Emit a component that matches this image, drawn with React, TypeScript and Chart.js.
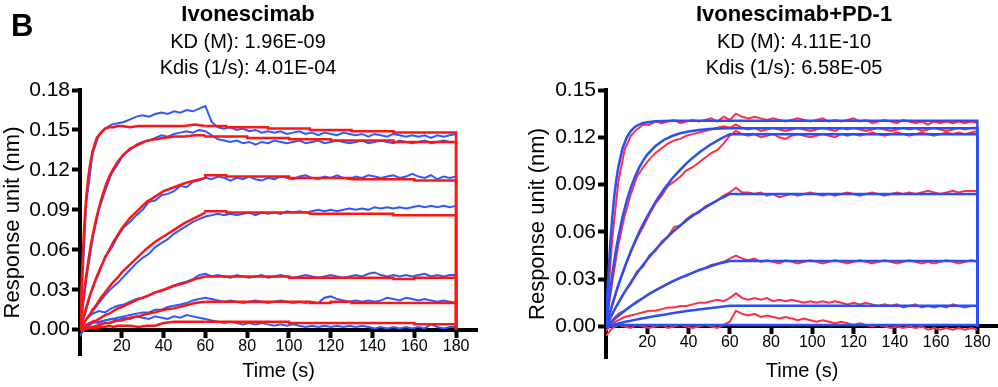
import { useEffect, useRef } from 'react';
import { Chart, registerables } from 'chart.js';

Chart.register(...registerables);

const FONT = '"Liberation Sans", Arial, Helvetica, sans-serif';
Chart.defaults.font.family = FONT;

// ---------- shared axes ----------
const timeRaw = [0,3,6,9,12,15,18,21,24,27,30,33,36,39,42,45,48,51,54,57,60,63,66,69,72,75,78,81,84,87,90,93,96,99,102,105,108,111,114,117,120,123,126,129,132,135,138,141,144,147,150,153,156,159,162,165,168,171,174,177,180];
const timeFit = [0,1,2,3,4,5,6,8,10,12,14,16,18,20,24,28,32,36,40,45,50,55,60,70,80,90,100,110,120,130,140,150,160,170,180,180];
const ASSOC_END = 22; // index of t = 60 s in timeFit
const xTickValues = [20,40,60,80,100,120,140,160,180];
const yTicksLeft = [0,0.03,0.06,0.09,0.12,0.15,0.18];
const yTicksRight = [0,0.03,0.06,0.09,0.12,0.15];

// ---------- Ivonescimab: raw (blue) ----------
const ivoRaw1 = [0,.095,.132,.146,.151,.154,.155,.156,.158,.160,.161,.160,.162,.163,.162,.164,.163,.165,.164,.166,.168,
  .156,.152,.151,.152,.150,.151,.149,.150,.148,.149,
  .148,.149,.147,.148,.149,.147,.148,.146,.148,.147,
  .146,.148,.147,.146,.147,.145,.147,.146,.145,.147,
  .146,.145,.146,.145,.146,.144,.146,.145,.146,.147];
const ivoRaw2 = [0,.038,.068,.090,.104,.117,.124,.132,.135,.139,.141,.142,.144,.146,.145,.147,.148,.149,.148,.150,.149,
  .146,.143,.142,.141,.142,.140,.141,.139,.141,.140,
  .142,.141,.140,.141,.142,.140,.141,.142,.140,.141,
  .142,.141,.140,.141,.142,.140,.141,.142,.141,.140,
  .142,.141,.140,.141,.142,.140,.141,.142,.141,.141];
const ivoRaw3 = [0,.015,.032,.042,.055,.061,.070,.077,.081,.086,.090,.096,.097,.101,.102,.104,.108,.107,.111,.112,.114,
  .113,.115,.114,.112,.114,.113,.115,.113,.112,.114,
  .113,.115,.114,.113,.115,.116,.114,.113,.115,.114,
  .116,.114,.113,.115,.114,.116,.115,.114,.115,.116,
  .114,.115,.117,.115,.114,.116,.113,.115,.114,.115];
const ivoRaw4 = [0,.008,.014,.020,.026,.031,.035,.040,.045,.050,.054,.057,.062,.065,.068,.072,.075,.078,.081,.083,.085,
  .086,.087,.086,.087,.086,.087,.088,.086,.088,.087,
  .088,.087,.089,.088,.089,.088,.089,.090,.089,.090,
  .089,.090,.091,.090,.091,.090,.092,.091,.092,.091,
  .092,.091,.092,.093,.092,.093,.092,.093,.092,.093];
const ivoRaw5 = [0,.008,.012,.014,.013,.016,.018,.019,.021,.023,.024,.026,.028,.029,.031,.033,.035,.036,.038,.041,.042,
  .040,.041,.040,.039,.041,.040,.039,.040,.041,.039,
  .040,.041,.040,.039,.040,.041,.040,.039,.040,.041,
  .040,.039,.040,.041,.040,.042,.043,.041,.040,.041,
  .040,.041,.040,.041,.042,.040,.041,.040,.041,.041];
const ivoRaw6 = [-.004,.002,.005,.006,.007,.008,.009,.010,.011,.012,.013,.013,.015,.015,.017,.018,.019,.020,.022,.023,.024,
  .023,.022,.021,.022,.021,.020,.021,.022,.021,.020,
  .021,.022,.021,.020,.021,.020,.021,.020,.024,.025,
  .023,.022,.021,.022,.021,.022,.021,.022,.024,.023,
  .022,.024,.023,.022,.023,.022,.021,.022,.021,.020];
const ivoRaw7 = [-.005,.004,.006,.005,.007,.008,.007,.009,.008,.010,.009,.008,.010,.009,.008,.010,.009,.011,.010,.009,.008,
  .007,.006,.005,.006,.005,.004,.005,.004,.005,.004,
  .003,.004,.003,.004,.003,.002,.003,.002,.003,.002,
  .003,.002,.003,.002,.003,.002,.001,.002,.001,.002,
  .001,.002,.001,.002,.001,.004,.002,.001,.002,.002];

// ---------- Ivonescimab: fits (red) ----------
const ivoFit1 = [0,.045,.077,.0995,.115,.126,.134,.144,.148,.151,.152,.152,.153,.153,
  .152,.153,.153,.153,.153,.153,.153,.154,.153,
  .153,.152,.152,.151,.151,.150,.150,.149,.149,.148,.148,.148,0];
const ivoFit2 = [0,.015,.029,.041,.052,.062,.0705,.085,.097,.107,.115,.121,.126,.130,
  .136,.139,.142,.143,.144,.145,.145,.146,.146,
  .145,.145,.144,.144,.143,.143,.142,.142,.142,.141,.141,.141,0];
const ivoFit3 = [0,.006,.011,.017,.022,.027,.031,.040,.047,.054,.060,.066,.071,.076,
  .084,.090,.096,.100,.104,.107,.110,.112,.114,
  .116,.115,.115,.115,.114,.114,.114,.113,.113,.113,.112,.112,0];
const ivoFit4 = [0,.0026,.0052,.0077,.010,.012,.015,.019,.024,.028,.032,.036,.039,.043,
  .049,.055,.061,.066,.070,.075,.080,.084,.088,
  .089,.088,.088,.088,.088,.087,.087,.087,.087,.086,.086,.086,0];
const ivoFit5 = [0,.001,.002,.003,.004,.005,.006,.007,.009,.011,.012,.014,.016,.017,
  .020,.023,.025,.028,.030,.033,.035,.038,.040,
  .040,.040,.040,.040,.039,.039,.039,.039,.039,.038,.039,.039,0];
const ivoFit6 = [0,.0003,.0006,.001,.001,.002,.002,.003,.004,.005,.005,.006,.007,.007,
  .009,.010,.012,.013,.015,.016,.018,.020,.021,
  .021,.021,.021,.021,.021,.020,.021,.020,.020,.020,.020,.020,0];
const ivoFit7 = [0,.0002,.0004,.0006,.0008,.001,.001,.0015,.002,.002,.003,.002,.003,.003,
  .003,.002,.003,.003,.005,.006,.006,.006,.006,
  .006,.006,.006,.006,.005,.005,.005,.005,.005,.005,.004,.004,0];

// ---------- Ivonescimab+PD-1: raw (red) ----------
const pdRaw1 = [0,.055,.092,.112,.121,.125,.128,.128,.130,.129,.130,.131,.129,.130,.131,.130,.131,.132,.130,.133,.131,
  .135,.133,.132,.133,.132,.131,.132,.131,.130,.131,
  .132,.131,.130,.131,.132,.130,.131,.130,.131,.132,
  .130,.131,.129,.130,.131,.130,.129,.131,.130,.129,
  .130,.128,.130,.129,.130,.129,.130,.129,.130,.129];
const pdRaw2 = [0,.028,.052,.070,.084,.095,.101,.106,.110,.113,.116,.118,.119,.121,.122,.123,.124,.125,.126,.127,.126,
  .128,.126,.125,.126,.124,.125,.126,.125,.124,.125,
  .126,.125,.124,.125,.126,.125,.124,.126,.125,.126,
  .125,.124,.125,.126,.125,.124,.125,.126,.125,.126,
  .124,.125,.126,.125,.124,.125,.126,.125,.126,.126];
const pdRaw3 = [0,.013,.026,.037,.047,.056,.063,.071,.078,.083,.089,.092,.095,.099,.101,.104,.107,.110,.112,.116,.121,
  .124,.122,.121,.122,.120,.121,.122,.120,.119,.121,
  .122,.121,.120,.121,.122,.121,.120,.122,.121,.122,
  .121,.122,.123,.122,.121,.122,.123,.122,.121,.122,
  .123,.122,.121,.122,.123,.122,.123,.122,.123,.124];
const pdRaw4 = [0,.008,.015,.022,.027,.035,.038,.045,.048,.054,.057,.063,.064,.068,.071,.072,.076,.078,.080,.083,.085,
  .088,.085,.085,.084,.085,.083,.084,.082,.083,.084,
  .083,.084,.085,.084,.083,.084,.083,.084,.085,.084,
  .083,.084,.085,.084,.083,.084,.085,.084,.085,.084,
  .085,.086,.085,.084,.085,.086,.085,.086,.086,.086];
const pdRaw5 = [0,.004,.008,.010,.013,.016,.018,.021,.023,.025,.027,.029,.031,.032,.034,.036,.037,.039,.040,.041,.043,
  .045,.043,.042,.043,.041,.042,.041,.040,.042,.041,
  .040,.041,.042,.041,.040,.041,.042,.041,.040,.041,
  .042,.041,.040,.041,.042,.041,.040,.041,.042,.041,
  .040,.041,.040,.041,.042,.041,.040,.041,.042,.041];
const pdRaw6 = [-.003,.002,.004,.006,.007,.008,.009,.010,.010,.011,.012,.012,.013,.013,.014,.015,.015,.016,.017,.016,.018,
  .021,.018,.017,.018,.017,.018,.016,.017,.016,.017,
  .016,.015,.016,.015,.016,.015,.016,.015,.014,.015,
  .014,.015,.014,.013,.014,.013,.014,.012,.013,.014,
  .012,.013,.012,.013,.012,.014,.013,.012,.013,.013];
const pdRaw7 = [-.006,-.001,.001,0,-.001,.001,0,-.001,0,.001,-.001,0,.001,0,-.001,0,.001,0,-.001,.001,.003,
  .010,.008,.007,.008,.006,.007,.006,.005,.006,.005,
  .004,.005,.004,.003,.004,.003,.002,.003,.002,.001,
  .002,.001,0,.001,0,-.001,0,-.001,0,-.001,
  0,-.002,-.001,-.002,-.001,-.002,-.001,-.002,-.001,-.002];

// ---------- Ivonescimab+PD-1: fits (blue) ----------
const pdFit1 = [0,.0289,.0513,.0689,.0825,.093,.1014,.1129,.1198,.124,.1266,.1281,.1291,.1296,
  .1302,.1304,.1305,.1305,.1305,.1305,.1305,.1305,.1305,
  .1305,.1305,.1305,.1305,.1305,.1305,.1305,.1305,.1305,.1305,.1305,.1305,0];
const pdFit2 = [0,.012,.0228,.0327,.0416,.0496,.0568,.0694,.0796,.0881,.0949,.1006,.1052,.109,
  .1145,.1183,.1208,.1226,.1237,.1246,.1252,.1255,.1257,
  .1257,.1257,.1257,.1257,.1257,.1257,.1257,.1257,.1257,.1257,.1257,.1257,0];
const pdFit3 = [0,.0048,.0094,.0139,.0182,.0224,.0263,.0339,.041,.0477,.0538,.0596,.0649,.0699,
  .079,.0869,.0937,.0995,.1047,.1102,.1148,.1187,.122,
  .122,.122,.122,.122,.122,.122,.122,.122,.122,.122,.122,.122,0];
const pdFit4 = [0,.0027,.0053,.0078,.0103,.0127,.015,.0196,.0239,.028,.0319,.0356,.0391,.0425,
  .0487,.0543,.0595,.064,.0683,.0729,.077,.0807,.084,
  .084,.084,.084,.084,.084,.084,.084,.084,.084,.084,.084,.084,0];
const pdFit5 = [0,.0012,.0024,.0035,.0046,.0057,.0068,.0089,.0109,.0128,.0146,.0164,.0181,.0198,
  .0229,.0257,.0284,.0308,.0331,.0356,.0379,.04,.0415,
  .0415,.0415,.0415,.0415,.0415,.0415,.0415,.0415,.0415,.0415,.0415,.0415,0];
const pdFit6 = [0,.0003,.0007,.001,.0013,.0016,.0019,.0025,.0031,.0036,.0042,.0047,.0052,.0057,
  .0066,.0075,.0084,.0092,.0099,.0108,.0116,.0124,.0132,
  .0132,.0132,.0132,.0132,.0132,.0132,.0132,.0132,.0132,.0132,.0132,.0132,0];
const pdFit7 = [0,.0002,.0004,.0006,.0007,.0008,.0009,.001,.001,.001,.001,.001,.001,.001,
  .001,.001,.001,.001,.001,.001,.001,.001,.001,
  .001,.001,.001,.001,.001,.001,.001,.001,.001,.001,.001,.001,0];

const ivoRaws = [ivoRaw1, ivoRaw2, ivoRaw3, ivoRaw4, ivoRaw5, ivoRaw6, ivoRaw7];
const ivoFits = [ivoFit1, ivoFit2, ivoFit3, ivoFit4, ivoFit5, ivoFit6, ivoFit7];
const pdRaws = [pdRaw1, pdRaw2, pdRaw3, pdRaw4, pdRaw5, pdRaw6, pdRaw7];
const pdFits = [pdFit1, pdFit2, pdFit3, pdFit4, pdFit5, pdFit6, pdFit7];

const BLUE_RAW = '#2d5aff';
const RED_FIT = '#ff1414';
const RED_RAW = '#ff2d48';
const BLUE_FIT = '#2a4ff2';

function line(t: number[], v: number[], color: string, width: number, stepped: any) {
  return {
    data: t.map((x, i) => ({ x, y: v[i] })),
    borderColor: color,
    backgroundColor: color,
    borderWidth: width,
    pointRadius: 0,
    fill: false,
    tension: 0,
    stepped,
    xAxisID: 'x',
    yAxisID: 'y',
  };
}

type PanelProps = {
  left: number;
  width: number;
  datasets: any[];
  yMin: number;
  yMax: number;
  yTicks: number[];
  yWidth: number;
  padRight: number;
  bottomH: number;
};

function Panel({ left, width, datasets, yMin, yMax, yTicks, yWidth, padRight, bottomH }: PanelProps) {
  const ref = useRef<HTMLCanvasElement | null>(null);
  useEffect(() => {
    if (!ref.current) return;
    const axisGrid = (tl: number) => ({
      display: true,
      drawOnChartArea: false,
      drawTicks: true,
      tickLength: tl,
      tickWidth: 4,
      tickColor: '#000',
      color: '#000',
    });
    const chart = new Chart(ref.current, {
      type: 'line',
      data: { datasets },
      options: {
        animation: false,
        responsive: false,
        maintainAspectRatio: false,
        events: [],
        layout: { padding: { top: 90, left: 0, right: padRight, bottom: 0 } },
        plugins: { legend: { display: false }, tooltip: { enabled: false }, title: { display: false } },
        scales: {
          x: {
            type: 'linear',
            position: { y: 0 } as any,
            min: 0,
            max: 190,
            afterBuildTicks: (s: any) => {
              s.ticks = xTickValues.map((v) => ({ value: v }));
            },
            grid: axisGrid(6),
            border: { display: true, width: 4, color: '#000' },
            ticks: {
              color: '#000',
              font: { family: FONT, size: 16 },
              padding: 1,
              autoSkip: false,
              maxRotation: 0,
              callback: (v: any) => String(v),
            },
          },
          x2: {
            type: 'linear',
            position: 'bottom',
            min: 0,
            max: 190,
            ticks: { display: false },
            grid: { display: false },
            border: { display: false },
            title: {
              display: true,
              text: 'Time (s)',
              color: '#000',
              font: { family: FONT, size: 20 },
              padding: { top: 0, bottom: 4 },
            },
            afterFit: (s: any) => {
              s.height = bottomH;
            },
          },
          y: {
            type: 'linear',
            position: 'left',
            min: yMin,
            max: yMax,
            afterBuildTicks: (s: any) => {
              s.ticks = yTicks.map((v) => ({ value: v }));
            },
            afterFit: (s: any) => {
              s.width = yWidth;
            },
            grid: axisGrid(8),
            border: { display: true, width: 4, color: '#000' },
            ticks: {
              color: '#000',
              font: { family: FONT, size: 21 },
              padding: 2,
              autoSkip: false,
              callback: (v: any) => Number(v).toFixed(2),
            },
            title: {
              display: true,
              text: 'Response unit (nm)',
              color: '#000',
              font: { family: FONT, size: 22 },
              padding: { top: 0, bottom: 0 },
            },
          },
        },
      } as any,
    });
    return () => chart.destroy();
  }, []);
  return (
    <canvas
      ref={ref}
      width={width}
      height={387}
      style={{ position: 'absolute', left, top: 0, width, height: 387 }}
    />
  );
}

function TitleLine({ cx, top, size, bold, text }: { cx: number; top: number; size: number; bold?: boolean; text: string }) {
  return (
    <div
      style={{
        position: 'absolute',
        left: cx - 170,
        width: 340,
        top,
        textAlign: 'center',
        fontFamily: FONT,
        fontSize: size,
        fontWeight: bold ? 'bold' : 'normal',
        lineHeight: `${size}px`,
        whiteSpace: 'nowrap',
        color: '#000',
      }}
    >
      {text}
    </div>
  );
}

export default function App() {
  const leftSets = [
    // association part of each fit: smooth; dissociation part: stepped (as in the instrument export)
    ...ivoFits.map((v) => line(timeFit.slice(0, ASSOC_END + 1), v.slice(0, ASSOC_END + 1), RED_FIT, 2.5, false)),
    ...ivoFits.map((v) => line(timeFit.slice(ASSOC_END), v.slice(ASSOC_END), RED_FIT, 2.5, 'after')),
    ...ivoRaws.map((v) => line(timeRaw, v, BLUE_RAW, 2, false)),
  ];
  const rightSets = [
    ...pdFits.map((v) => line(timeFit, v, BLUE_FIT, 2.5, false)),
    ...pdRaws.map((v) => line(timeRaw, v, RED_RAW, 2, false)),
  ];
  return (
    <div style={{ position: 'absolute', left: 0, top: 0, width: 998, height: 387, background: '#fff', overflow: 'hidden' }}>
      <Panel left={0} width={495} datasets={leftSets} yMin={-0.019} yMax={0.18} yTicks={yTicksLeft} yWidth={80} padRight={18} bottomH={32} />
      <Panel left={525} width={473} datasets={rightSets} yMin={-0.02} yMax={0.15} yTicks={yTicksRight} yWidth={81} padRight={0} bottomH={29} />
      <div
        style={{
          position: 'absolute',
          left: 11,
          top: 10,
          fontFamily: FONT,
          fontWeight: 'bold',
          fontSize: 31,
          lineHeight: '31px',
          color: '#000',
        }}
      >
        B
      </div>
      <TitleLine cx={248} top={3} size={22} bold text="Ivonescimab" />
      <TitleLine cx={248} top={31} size={20} text="KD (M): 1.96E-09" />
      <TitleLine cx={248} top={57} size={20} text="Kdis (1/s): 4.01E-04" />
      <TitleLine cx={794} top={3} size={22} bold text="Ivonescimab+PD-1" />
      <TitleLine cx={794} top={31} size={20} text="KD (M): 4.11E-10" />
      <TitleLine cx={794} top={57} size={20} text="Kdis (1/s): 6.58E-05" />
    </div>
  );
}
